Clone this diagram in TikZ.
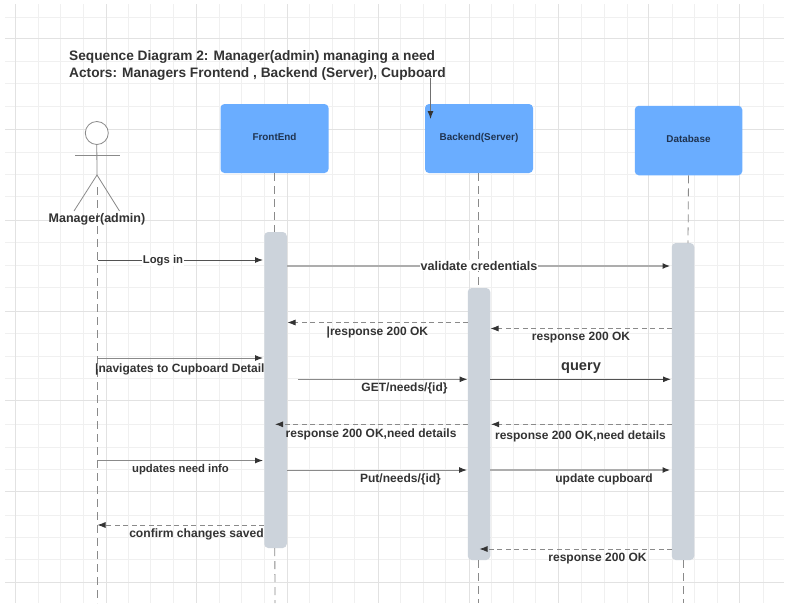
\documentclass[tikz,border=0pt]{standalone}
\usepackage{fontspec}
\setmainfont{Liberation Sans}
\usetikzlibrary{arrows.meta}
\definecolor{gridminor}{HTML}{F0F0F0}
\definecolor{gridmajor}{HTML}{E2E2E2}
\definecolor{boxblue}{HTML}{6AADFF}
\definecolor{actbar}{HTML}{CCD3DB}
\definecolor{ink}{HTML}{333333}
\definecolor{boxink}{HTML}{1F3350}
\definecolor{wire}{HTML}{8A8A8A}
\tikzset{
  partbox/.style={fill=boxblue,rounded corners=4pt,minimum width=108pt,minimum height=69pt,inner sep=0pt,text=boxink,text height=9pt,text depth=5.5pt,font=\bfseries\fontsize{9.9}{11}\selectfont},
  actbox/.style={fill=actbar,rounded corners=4pt,minimum width=22.5pt,inner sep=0pt},
  lifeline/.style={draw=wire,line width=0.8pt,dash pattern=on 8pt off 5pt},
  figure/.style={draw=wire,line width=0.8pt},
  msg/.style={draw=wire,line width=1pt,-{Latex[length=8pt,width=6pt,color=ink]}},
  msgdark/.style={msg,draw=ink!85!white},
  msgthick/.style={msg,draw=wire!70!white,line width=1.6pt},
  reply/.style={draw=wire,line width=0.8pt,dash pattern=on 5pt off 3.5pt,-{Latex[length=8pt,width=6pt,color=ink]}},
  lbl/.style={inner sep=0.5pt,text=ink,font=\bfseries\fontsize{12}{14}\selectfont},
  lblbg/.style={lbl,fill=white},
}
\begin{document}
\begin{tikzpicture}[x=1pt,y=-1pt]
\useasboundingbox (0,0) rectangle (793,603);
\fill[white] (0,0) rectangle (793,603);
% grid
\foreach \g in {38,60,83,128,150,173,219,241,264,309,332,354,400,423,445,491,513,535,581,604,627,672,694,717,763}
  \draw[gridminor,line width=0.9pt] (\g,4) -- (\g,603);
\foreach \g in {17,61,83,106,152,174,196,242,265,287,333,356,378,424,447,469,515,537,559}
  \draw[gridminor,line width=0.9pt] (5,\g) -- (784,\g);
\foreach \g in {15,106,196,287,378,469,558,648,739}
  \draw[gridmajor,line width=0.9pt] (\g,4) -- (\g,603);
\foreach \g in {38,129,220,311,400,491,582}
  \draw[gridmajor,line width=0.9pt] (5,\g) -- (784,\g);
% title
\node[lbl,anchor=west,font=\bfseries\fontsize{13.7}{17}\selectfont,align=left] (title) at (68.5,65.5)
  {Sequence Diagram 2: Manager(admin) managing a need\\Actors: Managers Frontend , Backend (Server), Cupboard};
% participants
\node[partbox] (fe) at (274.5,138.5) {FrontEnd};
\node[partbox] (be) at (479,138.5) {Backend(Server)};
\node[partbox,minimum width=107.5pt,minimum height=69.5pt] (db) at (688.5,140.5) {Database};
% actor
\node[circle,draw=wire,line width=0.8pt,fill=white,minimum size=23pt,inner sep=0pt] (head) at (96.8,133) {};
\coordinate (hip) at (97,175);
\coordinate (armL) at (75,155.5);
\coordinate (armR) at (119.5,155.5);
\coordinate (footL) at (74,211);
\coordinate (footR) at (119.5,211);
\draw[figure] (head.south) -- (hip);
\draw[figure] (armL) -- (armR);
\draw[figure] (footL) -- (hip) -- (footR);
\coordinate (actorEnd) at (97,603);
\draw[lifeline] (97,187) -- (actorEnd);
% activations
\node[actbox,minimum height=316pt] (afe) at (275.5,390) {};
\node[actbox,minimum height=272pt] (abe) at (479,424) {};
\node[actbox,minimum height=317pt] (adb) at (683,401.5) {};
% lifelines
\coordinate (feEnd) at (275,603);
\coordinate (beEnd) at (478.5,603);
\coordinate (dbEnd) at (683,603);
\coordinate (dbIn) at (688,243);
\draw[lifeline] (274.8,173) -- (afe.north -| 274.8,0);
\draw[lifeline] (afe.south -| 274.8,0) -- (feEnd);
\draw[lifeline] (478.5,173) -- (abe.north -| 478.5,0);
\draw[lifeline] (abe.south -| 478.5,0) -- (beEnd);
\draw[lifeline] (db.south) -- (dbIn);
\draw[lifeline] (683,560) -- (dbEnd);
% title pointer
\coordinate (ptrA) at (430.5,78);
\coordinate (ptrB) at (430.5,119);
\draw[msg,draw=ink!70!white] (ptrA) -- (ptrB);
% messages
\coordinate (m1a) at (98,260); \coordinate (m1b) at (263,260);
\draw[msgdark] (m1a) -- (m1b);
\node[lblbg,font=\bfseries\fontsize{11.3}{13}\selectfont] (t1) at (163,260.5) {Logs in};
\coordinate (m2a) at (287,266); \coordinate (m2b) at (670.5,266);
\draw[msgthick] (m2a) -- (m2b);
\node[lblbg,font=\bfseries\fontsize{12.6}{14}\selectfont] (t2) at (479,265.5) {validate credentials};
\coordinate (m3a) at (468,322.5); \coordinate (m3b) at (287.5,322.5);
\draw[reply] (m3a) -- (m3b);
\node[lbl,anchor=west] (t3) at (326,332) {|response 200 OK};
\coordinate (m4a) at (672,328.5); \coordinate (m4b) at (490.5,328.5);
\draw[reply] (m4a) -- (m4b);
\node[lbl] (t4) at (581,338) {response 200 OK};
\coordinate (m5a) at (97,358); \coordinate (m5b) at (263,358);
\draw[msg] (m5a) -- (m5b);
\node[lbl,anchor=west] (t5) at (94.5,369.5) {|navigates to Cupboard Detail};
\coordinate (m6a) at (298,379.3); \coordinate (m6b) at (467.5,379.3);
\draw[msg] (m6a) -- (m6b);
\node[lbl] (t6) at (404.5,388.5) {GET/needs/\{id\}};
\coordinate (m7a) at (490,379.3); \coordinate (m7b) at (671,379.3);
\draw[msgdark] (m7a) -- (m7b);
\node[lbl,font=\bfseries\fontsize{14.6}{16}\selectfont] (t7) at (581,368.5) {query};
\coordinate (m8a) at (468,424.3); \coordinate (m8b) at (275,424.3);
\draw[reply] (m8a) -- (m8b);
\node[lbl,anchor=west] (t8) at (285,434) {response 200 OK,need details};
\coordinate (m9a) at (672,424.3); \coordinate (m9b) at (491,424.3);
\draw[reply] (m9a) -- (m9b);
\node[lbl] (t9) at (580.5,436.5) {response 200 OK,need details};
\coordinate (m10a) at (97,460.5); \coordinate (m10b) at (263,460.5);
\draw[msg] (m10a) -- (m10b);
\node[lbl,font=\bfseries\fontsize{11.3}{13}\selectfont] (t10) at (180.5,469.5) {updates need info};
\coordinate (m11a) at (287,470); \coordinate (m11b) at (467,470);
\draw[msg] (m11a) -- (m11b);
\node[lbl] (t11) at (400.5,479.5) {Put/needs/\{id\}};
\coordinate (m12a) at (490,470); \coordinate (m12b) at (670.5,470);
\draw[msgthick] (m12a) -- (m12b);
\node[lbl] (t12) at (604,479.5) {update cupboard};
\coordinate (m13a) at (264,525); \coordinate (m13b) at (97.5,525);
\draw[reply] (m13a) -- (m13b);
\node[lbl,font=\bfseries\fontsize{12.1}{14}\selectfont] (t13) at (196.5,534.5) {confirm changes saved};
\coordinate (m14a) at (672,549); \coordinate (m14b) at (479.5,549);
\draw[reply] (m14a) -- (m14b);
\node[lbl] (t14) at (597.5,559) {response 200 OK};
\node[lbl,font=\bfseries\fontsize{12.5}{14}\selectfont] (actorname) at (97,219) {Manager(admin)};
\end{tikzpicture}
\end{document}
